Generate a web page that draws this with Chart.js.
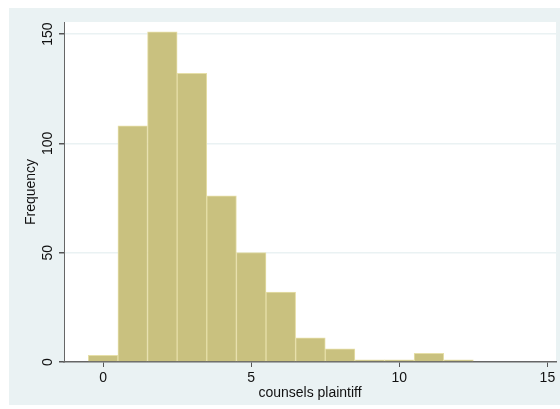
<!DOCTYPE html>
<html>
<head>
<meta charset="utf-8">
<script src="https://cdn.jsdelivr.net/npm/chart.js@4"></script>
<style>
  html, body { margin: 0; padding: 0; background: #fff; }
  #wrap { width: 560px; height: 409px; position: relative; }
</style>
</head>
<body>
<div id="wrap"><canvas id="MyChart"></canvas></div>
<script>
// histogram data (bin centres, counts)
const binCenters = [0, 1, 2, 3, 4, 5, 6, 7, 8, 9, 10, 11, 12];
const frequencies = [3, 108, 151, 132, 76, 50, 32, 11, 6, 1, 1, 4, 1];
const xTickValues = [0, 5, 10, 15];
const yTickValues = [0, 50, 100, 150];
const xTitle = 'counsels plaintiff';
const yTitle = 'Frequency';

const FONT = '"Liberation Sans", Arial, sans-serif';

// stata-ish background, rotated y labels and axis titles
const stataLook = {
  id: 'stataLook',
  beforeDraw(chart) {
    const { ctx, chartArea } = chart;
    ctx.save();
    ctx.fillStyle = '#eaf2f3';
    ctx.fillRect(9, 8, 551, 397);
    ctx.fillStyle = '#ffffff';
    ctx.fillRect(chartArea.left, chartArea.top, chartArea.right - chartArea.left, chartArea.bottom - chartArea.top);
    ctx.restore();
  },
  afterDraw(chart) {
    const { ctx, chartArea } = chart;
    const y = chart.scales.y;
    ctx.save();
    ctx.fillStyle = '#111';
    ctx.textAlign = 'center';
    ctx.textBaseline = 'middle';
    ctx.font = '14px ' + FONT;
    yTickValues.forEach(v => {
      const py = y.getPixelForValue(v);
      ctx.save();
      ctx.translate(48, py);
      ctx.rotate(-Math.PI / 2);
      ctx.fillText(String(v), 0, 0);
      ctx.restore();
    });
    ctx.font = '14px ' + FONT;
    ctx.save();
    ctx.translate(31, (chartArea.top + chartArea.bottom) / 2);
    ctx.rotate(-Math.PI / 2);
    ctx.fillText(yTitle, 0, 0);
    ctx.restore();
    ctx.fillText(xTitle, (chartArea.left + chartArea.right) / 2, 393);
    ctx.restore();
  }
};

const chart = new Chart(document.getElementById('MyChart'), {
  type: 'bar',
  data: {
    datasets: [{
      label: yTitle,
      data: binCenters.map((c, i) => ({ x: c, y: frequencies[i] })),
      backgroundColor: '#c9c17f',
      borderColor: '#e6dfa8',
      borderWidth: 1,
      barPercentage: 1,
      categoryPercentage: 1
    }]
  },
  options: {
    responsive: true,
    maintainAspectRatio: false,
    animation: false,
    layout: { padding: { top: 22, right: 4, bottom: 0, left: 0 } },
    plugins: { legend: { display: false }, tooltip: { enabled: false } },
    scales: {
      x: {
        type: 'linear',
        offset: false,
        min: -1.32,
        max: 15.29,
        afterBuildTicks: s => { s.ticks = xTickValues.map(v => ({ value: v })); },
        afterFit: s => { s.height = 47; },
        grid: { offset: false, drawOnChartArea: false, drawTicks: true, tickLength: 5, tickColor: '#555', lineWidth: 1 },
        border: { color: '#666', width: 1.5 },
        ticks: { color: '#111', font: { family: FONT, size: 14 }, padding: 3, maxRotation: 0 }
      },
      y: {
        min: 0,
        max: 155.5,
        afterBuildTicks: s => { s.ticks = yTickValues.map(v => ({ value: v })); },
        afterFit: s => { s.width = 64; },
        grid: {
          color: c => (c.tick && c.tick.value === 0) ? 'rgba(0,0,0,0)' : '#eaf2f3',
          lineWidth: 1.5,
          tickLength: 5,
          tickColor: '#555'
        },
        border: { color: '#666', width: 1 },
        ticks: { display: false }
      }
    }
  },
  plugins: [stataLook]
});
</script>
</body>
</html>
